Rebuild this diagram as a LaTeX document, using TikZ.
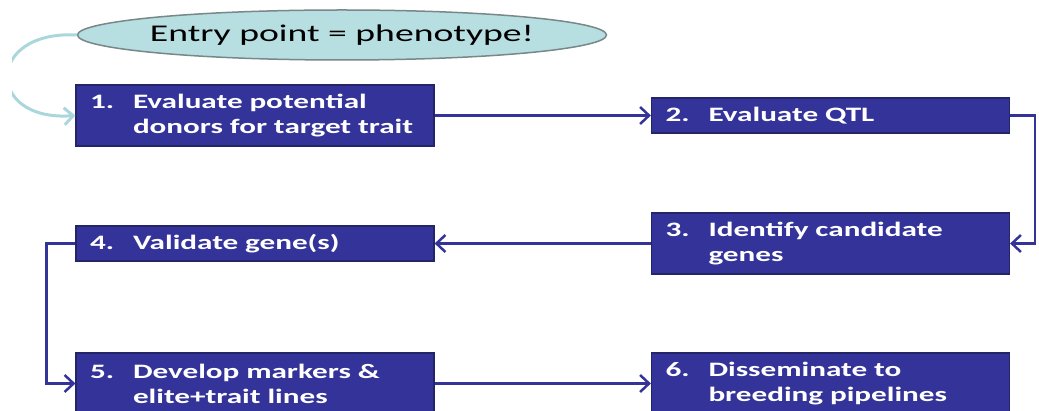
\documentclass[tikz,border=0pt]{standalone}
\usepackage{fontspec}
\setmainfont{Carlito}[FakeStretch=1.52]
\newfontfamily\entryfont{Carlito}[FakeStretch=1.57]
\usetikzlibrary{shapes.geometric,arrows.meta}
\definecolor{stepblue}{RGB}{51,51,153}
\definecolor{stepedge}{RGB}{36,36,105}
\definecolor{entryfill}{RGB}{183,222,225}
\definecolor{entryedge}{RGB}{120,135,135}
\definecolor{entryline}{RGB}{170,215,220}
\newcommand{\stepnum}[1]{\makebox[43pt][l]{#1}}
\newcommand{\stepmore}{\hspace*{43pt}}
\begin{document}
\begin{tikzpicture}[
  stepbox/.style={draw=stepedge, line width=1.2pt, fill=stepblue, text=white,
    font=\bfseries\fontsize{20.5}{25}\selectfont, align=left,
    minimum width=358pt, text width=330pt, inner xsep=14pt, inner ysep=0pt,
    minimum height=35pt},
  twoline/.style={minimum height=61pt},
  flow/.style={draw=stepblue, line width=2.5pt, -{Straight Barb[length=9pt,width=17pt]}},
  entry/.style={ellipse, draw=entryedge, line width=1.5pt, fill=entryfill,
    font=\entryfont\fontsize{24}{28}\selectfont, inner xsep=-5pt,
    minimum width=525pt, minimum height=50pt},
  entryflow/.style={draw=entryline, line width=3pt, -{Straight Barb[length=9pt,width=17pt]}}
]
\clip (0pt,0pt) rectangle (1039pt,-411pt);
\node[entry] (entry) at (342pt,-35pt) {Entry point = phenotype!};
\node[stepbox, twoline] (b1) at (255pt,-115.5pt) {\stepnum{1.}Evaluate potential\\ \stepmore donors for target trait};
\node[stepbox] (b2) at (830.5pt,-115.5pt) {\stepnum{2.}Evaluate QTL};
\node[stepbox, twoline] (b3) at (830.5pt,-243.5pt) {\stepnum{3.}Identify candidate\\ \stepmore genes};
\node[stepbox] (b4) at (255pt,-243.5pt) {\stepnum{4.}Validate gene(s)};
\node[stepbox, twoline] (b5) at (255pt,-383.5pt) {\stepnum{5.}Develop markers \&\\ \stepmore elite+trait lines};
\node[stepbox, twoline] (b6) at (830.5pt,-383.5pt) {\stepnum{6.}Disseminate to\\ \stepmore breeding pipelines};
\begin{scope}
\clip (12pt,0pt) rectangle (200pt,-200pt);
\draw[entryflow] (entry.west) .. controls (-15pt,-30pt) and (-15pt,-122pt) .. (b1.west);
\end{scope}
\draw[flow] (b1) -- (b2);
\draw[flow] (b2.east) -- ++(25pt,0pt) |- (b3.east);
\draw[flow] (b3) -- (b4);
\draw[flow] (b4.west) -- ++(-29pt,0pt) |- (b5.west);
\draw[flow] (b5) -- (b6);
\end{tikzpicture}
\end{document}
